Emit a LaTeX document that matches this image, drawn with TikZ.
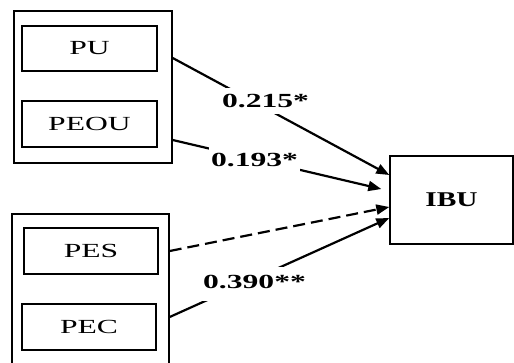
\documentclass[tikz,border=0pt]{standalone}
\usepackage{fontspec}
\setmainfont{Liberation Serif}
\usetikzlibrary{arrows.meta}
\newcommand\sx[1]{\scalebox{1.58}[1]{#1}}
\tikzset{
  box/.style={draw, line width=1.4pt, minimum width=#1, inner sep=0pt, font=\fontsize{20}{20}\selectfont},
  grp/.style={draw, line width=1.4pt, inner sep=0pt},
  arr/.style={line width=2.2pt, -{Triangle[length=13pt,width=10pt]}},
  lab/.style={fill=white, inner xsep=2pt, inner ysep=0pt, minimum height=26pt, font=\fontsize{20}{20}\selectfont\bfseries}
}
\begin{document}
\begin{tikzpicture}[x=1pt,y=-1pt]
\useasboundingbox (0,0) rectangle (514,363);
\clip (0,0) rectangle (514,363);
\node[grp, minimum width=158pt, minimum height=152pt] (g1) at (93,87) {};
\node[grp, minimum width=157pt, minimum height=170pt] (g2) at (90.5,299) {};
\node[box=135pt, minimum height=45pt] (pu) at (89.5,48.5) {\sx{PU}};
\node[box=135pt, minimum height=46pt] (peou) at (89.5,124) {\sx{PEOU}};
\node[box=134pt, minimum height=46pt] (pes) at (91,251) {\sx{PES}};
\node[box=134pt, minimum height=46pt] (pec) at (89,327) {\sx{PEC}};
\node[box=123pt, minimum height=88pt, font=\fontsize{21}{21}\selectfont\bfseries] (ibu) at (451.5,200) {\scalebox{1.4}[1]{IBU}};
\draw[arr] ([yshift=29pt]g1.east) -- ([yshift=25pt]ibu.west);
\draw[arr] ([yshift=-53pt]g1.east) -- ([xshift=-8pt,yshift=11pt]ibu.west);
\draw[arr, dash pattern=on 12pt off 6pt] ([yshift=48pt]g2.east) -- ([yshift=-7pt]ibu.west);
\draw[arr] ([yshift=-18pt]g2.east) -- ([yshift=-18pt]ibu.west);
\node[lab] (l1) at (265.5,101) {\sx{0.215*}};
\node[lab] (l2) at (254.5,159.5) {\sx{0.193*}};
\node[lab, minimum height=34pt] (l3) at (254.5,284) {\raisebox{4pt}{\sx{0.390**}}};
\end{tikzpicture}
\end{document}
